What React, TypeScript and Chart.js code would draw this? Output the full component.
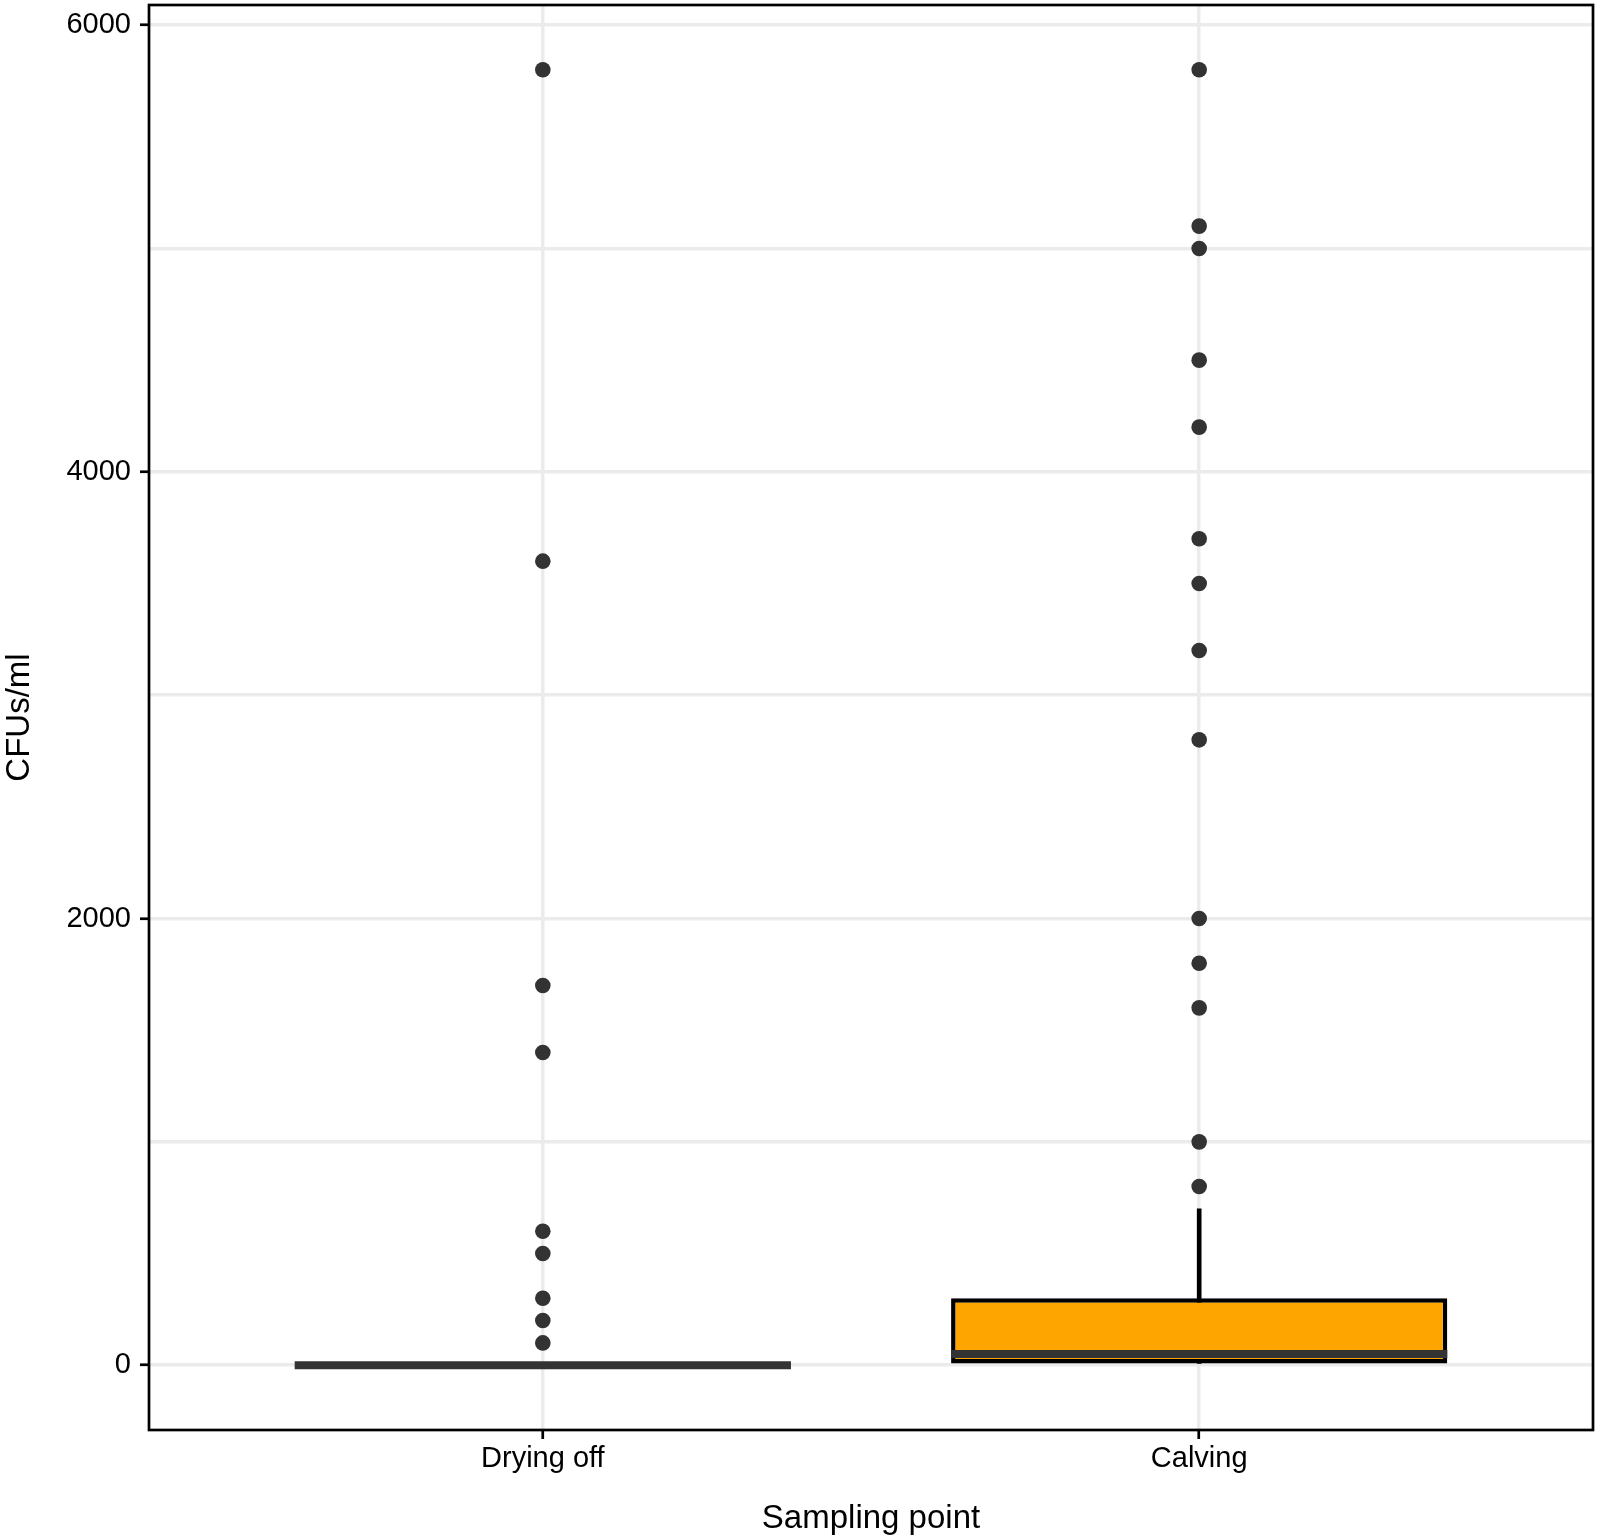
import React, { useEffect, useRef } from "react";
import { Chart, registerables } from "chart.js";

Chart.register(...registerables);

// ---- data ----
const categories = ["Drying off", "Calving"];
const q1 = [0, 0];
const median = [0, 50];
const q3 = [0, 300];
const whiskerLow = [0, 0];
const whiskerHigh = [0, 700];
const boxFill = ["#FFFFFF", "#FFA500"];
const dryingOffOutliers = [100, 200, 300, 500, 600, 1400, 1700, 3600, 5800];
const calvingOutliers = [800, 1000, 1600, 1800, 2000, 2800, 3200, 3500, 3700, 4200, 4500, 5000, 5100, 5800];
const yMajorTicks = [0, 2000, 4000, 6000];
const yMinorTicks = [1000, 3000, 5000];
const xTitle = "Sampling point";
const yTitle = "CFUs/ml";

const BOX_WIDTH = 0.75;
const FONT = "'Liberation Sans', Arial, Helvetica, sans-serif";

const outlierSets = [dryingOffOutliers, calvingOutliers];

const panelBorder = {
  id: "panelBorder",
  afterDraw(chart: any) {
    const { ctx, chartArea } = chart;
    ctx.save();
    ctx.strokeStyle = "#000000";
    ctx.lineWidth = 2.7;
    ctx.strokeRect(chartArea.left, chartArea.top, chartArea.right - chartArea.left, chartArea.bottom - chartArea.top);
    ctx.restore();
  },
};

export default function App() {
  const ref = useRef<HTMLCanvasElement | null>(null);

  useEffect(() => {
    if (!ref.current) return;
    const allVals = [
      ...whiskerLow,
      ...whiskerHigh,
      ...dryingOffOutliers,
      ...calvingOutliers,
    ];
    const dMin = Math.min(...allVals);
    const dMax = Math.max(...allVals);
    const pad = 0.05 * (dMax - dMin);

    const medianRadius = (c: any) => {
      const s = c.chart.scales.x;
      const r = Math.abs(s.getPixelForValue(1 + BOX_WIDTH / 2) - s.getPixelForValue(1)) + 2;
      return Number.isFinite(r) ? r : 0;
    };

    const chart = new Chart(ref.current, {
      type: "bar",
      data: {
        datasets: [
          {
            type: "scatter",
            label: "outliers",
            data: outlierSets.flatMap((arr, i) => arr.map((v) => ({ x: i + 1, y: v }))),
            pointRadius: 7.8,
            pointBackgroundColor: "#333333",
            pointBorderWidth: 0,
            order: 0,
          } as any,
          {
            type: "scatter",
            label: "median",
            data: categories.map((_, i) => ({ x: i + 1, y: median[i] })),
            pointStyle: "line",
            pointRadius: medianRadius,
            pointBorderColor: "#333333",
            pointBorderWidth: 8,
            order: 1,
          } as any,
          {
            type: "bar",
            label: "box",
            data: categories.map((_, i) => ({ x: i + 1, y: [q1[i], q3[i]] })),
            backgroundColor: boxFill,
            borderColor: "#000000",
            borderWidth: 4.5,
            borderSkipped: false,
            grouped: false,
            categoryPercentage: 1,
            barPercentage: BOX_WIDTH + 0.006,
            order: 2,
          } as any,
          {
            type: "bar",
            label: "whisker",
            data: categories.map((_, i) => ({ x: i + 1, y: [whiskerLow[i], whiskerHigh[i]] })),
            backgroundColor: "#000000",
            borderWidth: 0,
            grouped: false,
            barThickness: 4,
            order: 3,
          } as any,
        ],
      },
      options: {
        animation: false,
        responsive: false,
        devicePixelRatio: 1,
        events: [],
        layout: { autoPadding: false, padding: { top: 5, right: 7, left: 0, bottom: 0 } },
        plugins: {
          legend: { display: false },
          tooltip: { enabled: false },
          title: { display: false },
        },
        scales: {
          x: {
            type: "linear",
            min: 0.4,
            max: categories.length + 0.6,
            offset: false,
            afterBuildTicks: (axis: any) => {
              axis.ticks = categories.map((_, i) => ({ value: i + 1 }));
            },
            afterFit: (axis: any) => {
              axis.height = 106;
              axis.paddingLeft = 0;
              axis.paddingRight = 0;
            },
            ticks: {
              autoSkip: false,
              maxRotation: 0,
              padding: 3,
              color: "#000000",
              font: { family: FONT, size: 29 },
              callback: (v: any) => {
                const idx = Math.round(Number(v)) - 1;
                return categories[idx] ?? "";
              },
            },
            grid: {
              offset: false,
              color: "#EBEBEB",
              lineWidth: 3.5,
              tickColor: "#000000",
              tickWidth: 2.7,
              tickLength: 9,
            },
            border: { display: false },
            title: {
              display: true,
              text: xTitle,
              color: "#000000",
              font: { family: FONT, size: 33 },
              padding: { top: 0, bottom: -2.5 },
            },
          },
          y: {
            type: "linear",
            min: dMin - pad,
            max: dMax + pad,
            afterBuildTicks: (axis: any) => {
              axis.ticks = [...yMajorTicks, ...yMinorTicks]
                .sort((a, b) => a - b)
                .map((v) => ({ value: v }));
            },
            afterFit: (axis: any) => {
              axis.width = 149;
              axis.paddingTop = 0;
              axis.paddingBottom = 0;
            },
            ticks: {
              autoSkip: false,
              padding: 9,
              color: "#000000",
              font: { family: FONT, size: 29 },
              callback: (v: any) => (yMajorTicks.includes(Number(v)) ? String(v) : ""),
            },
            grid: {
              color: "#EBEBEB",
              lineWidth: 3.5,
              tickColor: (c: any) =>
                c.tick && yMajorTicks.includes(c.tick.value) ? "#000000" : "rgba(0,0,0,0)",
              tickWidth: 2.7,
              tickLength: 9,
            },
            border: { display: false },
            title: {
              display: true,
              text: yTitle,
              color: "#000000",
              font: { family: FONT, size: 33 },
              padding: { top: 0, bottom: 0 },
            },
          },
        },
      },
      plugins: [panelBorder],
    } as any);

    return () => chart.destroy();
  }, []);

  return (
    <div style={{ position: "absolute", left: 0, top: 0, width: 1600, height: 1536, background: "#FFFFFF" }}>
      <canvas ref={ref} width={1600} height={1536} style={{ display: "block" }} />
    </div>
  );
}
